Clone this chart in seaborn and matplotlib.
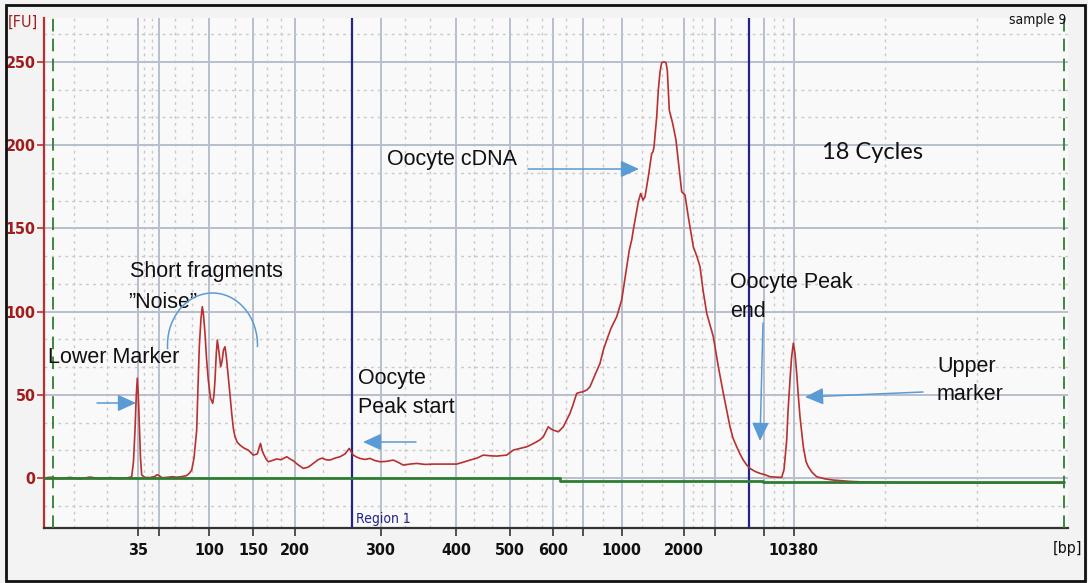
import numpy as np
import pandas as pd
import matplotlib
matplotlib.use("Agg")
import matplotlib.pyplot as plt
import seaborn as sns
from matplotlib.patches import Arc, Rectangle

# ---------------- data ----------------
# migration position (arbitrary units along the run) and fluorescence (FU)
trace_pos = [44, 50, 60, 70, 80, 90, 100, 110, 120, 128, 131.7, 133.5, 135, 136.3, 137.3,
             138.3, 139.3, 140.5, 141.7, 145, 150, 155, 157, 159, 162, 167, 172, 177, 182,
             186.7, 189.5, 191.7, 194, 196.7, 198, 199.3, 201, 202.3, 203.5, 205, 206.5,
             208.3, 210.5, 212.7, 214, 215, 216.3, 217.3, 218.5, 220.7, 222, 223.5, 225,
             226.5, 228.3, 230, 231.7, 233.3, 235, 237.3, 240, 244, 248.3, 253.3, 257.3,
             259, 260.5, 262, 263.3, 266, 268.3, 272, 276.7, 281, 286.7, 290, 293.3, 298,
             303.3, 308, 313.3, 318, 322, 326, 330, 335, 340, 345, 349.3, 351, 353.3, 357,
             360, 365, 370, 375, 380, 386, 393.3, 398, 403.3, 410, 416.7, 425, 433.3, 445,
             456.7, 463, 470, 477, 483.3, 490, 496.7, 506.7, 513.3, 520, 526.7, 531, 536.7,
             540, 543.3, 546, 548.3, 551, 553.3, 558.3, 563.3, 566.7, 570, 573, 576.7, 580,
             583.3, 587, 590, 595, 600, 603.3, 606.7, 611, 616.7, 621.7, 626.7, 629.3,
             631.7, 633.3, 636, 638.3, 640.7, 643, 645, 648.3, 651.7, 653, 654, 656.7,
             658.3, 660, 661.7, 664, 666, 667.3, 669.3, 672.7, 676, 679.3, 681.7, 685,
             688.3, 693.3, 697, 700, 703, 706.7, 710, 713.3, 718.3, 723.3, 727, 730, 733,
             736.7, 740, 743.3, 746.5, 750, 755, 760, 765, 770, 775, 781.7, 784, 786.7, 788,
             790, 791.5, 793.3, 795, 796.7, 798.5, 800, 803.3, 806, 808.3, 812, 816.7, 825,
             833.3, 850, 870, 900, 950, 1000, 1064]
trace_fu = [0, 0.5, -0.3, 0.4, -0.5, 0.6, -0.4, 0.3, -0.3, 0.2, 0.8, 10, 28.8, 50, 60,
            50, 32.9, 12, 1.8, 0.4, 0.3, 1, 2, 1.5, 0.2, 0.4, 0.8, 0.5, 0.9,
            1.5, 3, 4.8, 12, 28.8, 55, 78.9, 96, 103, 98, 87, 72,
            58.9, 48, 44.9, 50, 58.9, 75, 82.9, 78, 66.9, 70, 77, 78.9,
            72, 60.9, 50, 38.9, 30, 24.8, 21.5, 19.8, 18, 16.8, 13.8, 14.5,
            18, 20.8, 17, 14.8, 11.5, 9.8, 10.5, 11.5, 11, 12.8, 11.5, 10.4, 8,
            5.8, 6.5, 8.8, 11, 12, 11, 10.8, 12, 12.8, 14.5, 17.8, 16, 13.8, 12.5,
            11.8, 11.2, 11.8, 10.5, 9.8, 10, 10.8, 9.5, 7.8, 8.4, 8.8, 8.2, 8.4, 8.4,
            8.4, 9.5, 10.8, 12, 13.8, 13.4, 13.2, 13.8, 16.8, 17.8, 18.8, 20, 21.8,
            23, 24.8, 28, 30.8, 29.5, 28.8, 27.8, 30.8, 34.9, 38.9, 44, 50.9, 51.5,
            51.9, 53, 54.9, 62, 68.9, 76.9, 82.9, 90, 96.9, 107, 127, 137,
            143, 149, 158, 166, 171, 167, 169, 181, 195, 196, 199, 217,
            233, 244, 249.6, 250, 249.6, 245, 221, 213, 203, 185, 172, 170,
            157, 139, 133, 127, 113, 99, 92, 85, 67, 51, 40, 30.8, 24,
            18.8, 14.5, 10.8, 8, 5.8, 4, 2.8, 2, 0.8, 0.6, 0.4, 5, 22.8, 40,
            58.9, 72, 81, 75, 62.9, 48, 36.8, 18.8, 10, 6.8, 3.5, 0.8, -0.5,
            -1.2, -2, -2.5, -2.8, -3, -3, -3]

baseline_pos = [44, 560, 560, 763, 763, 1064]
baseline_fu = [0, 0, -1.5, -1.5, -2.5, -2.5]

size_tick_pos = [137.7, 158.7, 209.3, 253.3, 295.3, 380.5, 456, 510, 553.3, 583.3,
                 621.7, 684.3, 715, 763.5, 793.7]
size_tick_labels = ["35", "", "100", "150", "200", "300", "400", "500", "600", "",
                    "1000", "2000", "", "", "10380"]
minor_grid_pos = [74, 106.7, 144, 151.7, 174.7, 192, 235.3, 266.7, 280.7, 323.3, 405,
                  430, 474, 491.7, 526.7, 541.7, 566, 603.3, 641.7, 661.7, 693.3, 701.7,
                  730.7, 774, 783.3, 885, 977.3]
region_bounds = [351.7, 749]
marker_bounds = [53.3, 1064.3]
fu_ticks = [0, 50, 100, 150, 200, 250]

# ---------------- styling ----------------
sns.set_theme(style="white")
plt.rcParams["font.family"] = ["Liberation Sans", "DejaVu Sans"]

W, H = 1088, 583
RED = "#b8302f"
DARKRED = "#a11d1d"
BLUE_ARROW = "#5b9bd5"
NAVY = "#23238a"
GREEN = "#2f7d32"
GRID = "#b7bfcd"
MINOR = "#c9c9c9"


def fx(px):
    return px / W


def fy(py):
    return 1 - py / H


fig = plt.figure(figsize=(W / 100, H / 100), dpi=100, facecolor="#f3f3f3")
ax = fig.add_axes([fx(44), fy(528), (1068 - 44) / W, (528 - 18) / H])
ax.set_facecolor("#f9f9f9")

df = pd.DataFrame({"pos": trace_pos, "fu": trace_fu})
ax.set_xlim(44, 1068)
ax.set_ylim(-30, 276.4)

# grid
ax.set_yticks(fu_ticks)
minor_y = [v for v in np.arange(-50 / 3, 276, 50 / 3) if abs(v / 50 - round(v / 50)) > 1e-6]
ax.set_yticks(minor_y, minor=True)
ax.set_xticks(size_tick_pos)
ax.set_xticklabels(size_tick_labels)
ax.set_xticks(minor_grid_pos, minor=True)
ax.grid(which="major", axis="both", color=GRID, lw=1.4, zorder=0)
ax.grid(which="minor", axis="both", color=MINOR, lw=1.0, ls=(0, (2, 3)), zorder=0)
ax.set_axisbelow(True)

# region / marker lines
for xv in region_bounds:
    ax.axvline(xv, color=NAVY, lw=1.6, zorder=3)
for xv in marker_bounds:
    ax.axvline(xv, color=GREEN, lw=1.3, ls=(0, (7, 4)), zorder=3)

# trace
sns.lineplot(data=df, x="pos", y="fu", ax=ax, color=RED, lw=1.2, sort=False,
             estimator=None, zorder=4)
ax.plot(baseline_pos, baseline_fu, color=GREEN, lw=2.0, zorder=5)
ax.set_xlabel("")
ax.set_ylabel("")

# spines and ticks
for s in ["top", "right"]:
    ax.spines[s].set_visible(False)
ax.spines["left"].set_color(RED)
ax.spines["left"].set_linewidth(1.6)
ax.spines["bottom"].set_color("#333333")
ax.spines["bottom"].set_linewidth(1.6)
ax.tick_params(axis="y", which="major", length=5, width=1.2, color=RED, pad=1,
               labelcolor=DARKRED, labelsize=11.5, left=True)
ax.tick_params(axis="x", which="major", length=6, width=1.2, color="#333333", pad=5,
               labelcolor="#111111", labelsize=11.5, bottom=True)
ax.tick_params(which="minor", length=0)
for lab in ax.get_yticklabels() + ax.get_xticklabels():
    lab.set_family("DejaVu Sans")
    lab.set_stretch("condensed")
    lab.set_weight("bold")

# texts
fig.text(fx(8), fy(22), "[FU]", color=DARKRED, fontsize=11.5, family="DejaVu Sans",
         stretch="condensed", va="center", ha="left")
fig.text(fx(1066), fy(20), "sample 9", color="#111111", fontsize=10, family="DejaVu Sans",
         stretch="condensed", va="center", ha="right")
fig.text(fx(1082), fy(549), "[bp]", color="#111111", fontsize=11.5, family="DejaVu Sans",
         stretch="condensed", va="center", ha="right")
fig.text(fx(356), fy(522.7), "Region 1", color=NAVY, fontsize=10, family="DejaVu Sans",
         stretch="condensed", va="baseline", ha="left")

ann = dict(color="#111111", fontsize=15.5, va="baseline", ha="left")
fig.text(fx(48), fy(363.3), "Lower Marker", **ann)
fig.text(fx(130), fy(276.7), "Short fragments", **ann)
fig.text(fx(128), fy(308.3), "\u201dNoise\u201d", **ann)
fig.text(fx(387), fy(165), "Oocyte cDNA", **ann)
fig.text(fx(730), fy(288.3), "Oocyte Peak", **ann)
fig.text(fx(730), fy(316.7), "end", **ann)
fig.text(fx(937), fy(371.7), "Upper", **ann)
fig.text(fx(937), fy(400), "marker", **ann)
fig.text(fx(358), fy(384.3), "Oocyte", **ann)
fig.text(fx(358), fy(413.3), "Peak start", **ann)
fig.text(fx(822), fy(159.3), "18 Cycles", color="#111111", fontsize=17, family="Lato",
         va="baseline", ha="left")

# arrows
arrows = [((97, 403), (136, 403)),
          ((528, 169), (639, 169)),
          ((416, 442), (363, 442)),
          ((763, 323), (760, 441)),
          ((923, 392), (805, 397))]
for (x0, y0), (x1, y1) in arrows:
    fig.add_artist(matplotlib.patches.FancyArrowPatch(
        (fx(x0), fy(y0)), (fx(x1), fy(y1)), transform=fig.transFigure,
        arrowstyle="-|>,head_length=0.7,head_width=0.32", mutation_scale=16,
        color=BLUE_ARROW, lw=1.1, shrinkA=0, shrinkB=0, zorder=10))

# "Noise" arc
fig.add_artist(Arc((fx(212.5), fy(345)), 90 / W, 104 / H, theta1=-5, theta2=190,
                   transform=fig.transFigure, color=BLUE_ARROW, lw=1.1, zorder=10))

# figure frame
fig.add_artist(Rectangle((fx(6), fy(581)), (1085 - 6) / W, (581 - 5) / H,
                         transform=fig.transFigure, fill=False, ec="#111111", lw=2,
                         zorder=20))

fig.savefig("out.png", dpi=100, facecolor=fig.get_facecolor())
